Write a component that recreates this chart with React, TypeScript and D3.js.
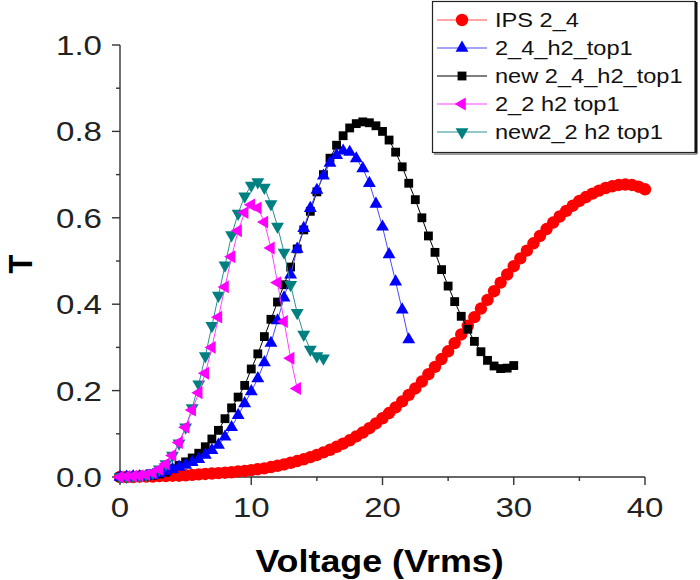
import React from "react";
import * as d3 from "d3";

// Shared voltage grid (Vrms)
const VOLTAGES = [
  0, 0.5, 1, 1.5, 2, 2.5, 3, 3.5, 4, 4.5, 5, 5.5, 6, 6.5, 7, 7.5, 8, 8.5, 9, 9.5,
  10, 10.5, 11, 11.5, 12, 12.5, 13, 13.5, 14, 14.5, 15, 15.5, 16, 16.5, 17, 17.5,
  18, 18.5, 19, 19.5, 20, 20.5, 21, 21.5, 22, 22.5, 23, 23.5, 24, 24.5, 25, 25.5,
  26, 26.5, 27, 27.5, 28, 28.5, 29, 29.5, 30, 30.5, 31, 31.5, 32, 32.5, 33, 33.5,
  34, 34.5, 35, 35.5, 36, 36.5, 37, 37.5, 38, 38.5, 39, 39.5, 40, 40.5,
];

const IPS_2_4 = [
  0, 0, 0, 0.001, 0.001, 0.001, 0.002, 0.002, 0.003, 0.003, 0.004, 0.005, 0.006,
  0.007, 0.008, 0.009, 0.01, 0.011, 0.013, 0.014, 0.016, 0.018, 0.02, 0.023, 0.026,
  0.029, 0.033, 0.037, 0.041, 0.046, 0.051, 0.057, 0.063, 0.07, 0.077, 0.085, 0.094,
  0.103, 0.113, 0.124, 0.136, 0.148, 0.161, 0.175, 0.19, 0.205, 0.221, 0.238, 0.255,
  0.273, 0.291, 0.31, 0.33, 0.35, 0.37, 0.39, 0.41, 0.43, 0.45, 0.469, 0.488, 0.506,
  0.524, 0.541, 0.558, 0.574, 0.589, 0.603, 0.616, 0.628, 0.639, 0.648, 0.656, 0.663,
  0.669, 0.673, 0.676, 0.677, 0.676, 0.672, 0.666,
];

const H2_2_4 = [
  0, 0, 0.001, 0.001, 0.002, 0.004, 0.008, 0.013, 0.018, 0.023, 0.028, 0.034, 0.041,
  0.051, 0.062, 0.074, 0.093, 0.115, 0.143, 0.17, 0.198, 0.228, 0.265, 0.31, 0.362,
  0.415, 0.468, 0.528, 0.576, 0.622, 0.664, 0.697, 0.727, 0.745, 0.755, 0.752, 0.737,
  0.714, 0.68, 0.632, 0.579, 0.515, 0.452, 0.387, 0.318,
];

const NEW_H2_2_4 = [
  0, 0, 0.001, 0.001, 0.002, 0.004, 0.007, 0.011, 0.019, 0.027, 0.035, 0.044, 0.055,
  0.07, 0.088, 0.108, 0.135, 0.16, 0.185, 0.212, 0.25, 0.285, 0.325, 0.365, 0.405,
  0.445, 0.486, 0.528, 0.572, 0.615, 0.66, 0.7, 0.738, 0.768, 0.79, 0.808, 0.818,
  0.822, 0.82, 0.813, 0.8, 0.78, 0.752, 0.718, 0.68, 0.642, 0.6, 0.558, 0.52, 0.48,
  0.442, 0.406, 0.372, 0.342, 0.314, 0.29, 0.27, 0.257, 0.251, 0.252, 0.258,
];

const H2_2_2 = [
  0, 0.001, 0.002, 0.003, 0.005, 0.01, 0.018, 0.03, 0.05, 0.08, 0.115, 0.155, 0.195,
  0.24, 0.3, 0.37, 0.44, 0.51, 0.57, 0.612, 0.63, 0.623, 0.59, 0.53, 0.45, 0.36,
  0.275, 0.205,
];

const NEW2_H2_2_2 = [
  0, 0.001, 0.002, 0.003, 0.005, 0.01, 0.018, 0.03, 0.05, 0.078, 0.115, 0.16, 0.215,
  0.28, 0.35, 0.42, 0.49, 0.56, 0.61, 0.65, 0.675, 0.683, 0.67, 0.632, 0.58, 0.52,
  0.445, 0.38, 0.33, 0.295, 0.28, 0.275,
];

const X_TICKS = [0, 10, 20, 30, 40];
const Y_TICKS = [0, 0.2, 0.4, 0.6, 0.8, 1.0];
const X_MINOR = [5, 15, 25, 35];
const Y_MINOR = [0.1, 0.3, 0.5, 0.7, 0.9];

type Series = {
  name: string;
  values: number[];
  color: string;
  lineColor: string;
  marker: "circle" | "up" | "square" | "left" | "down";
};

const SERIES: Series[] = [
  { name: "IPS 2_4", values: IPS_2_4, color: "#ff0000", lineColor: "#ff5050", marker: "circle" },
  { name: "2_4_h2_top1", values: H2_2_4, color: "#0000ff", lineColor: "#4a4aff", marker: "up" },
  { name: "new 2_4_h2_top1", values: NEW_H2_2_4, color: "#000000", lineColor: "#000000", marker: "square" },
  { name: "2_2 h2 top1", values: H2_2_2, color: "#ff00ff", lineColor: "#ff40ff", marker: "left" },
  { name: "new2_2 h2 top1", values: NEW2_H2_2_2, color: "#008080", lineColor: "#2a9090", marker: "down" },
];

const DRAW_ORDER = [0, 2, 1, 4, 3];

const W = 700;
const H = 580;
const x = d3.scaleLinear().domain([0, 40]).range([120, 645]);
const y = d3.scaleLinear().domain([0, 1]).range([477, 45]);

const triPath = d3.symbol().type(d3.symbolTriangle).size(72)() as string;
const sqPath = d3.symbol().type(d3.symbolSquare).size(78)() as string;

function Marker({ kind, cx, cy, color }: { kind: Series["marker"]; cx: number; cy: number; color: string }) {
  if (kind === "circle") return <circle cx={cx} cy={cy} r={6.2} fill={color} />;
  if (kind === "square") return <path d={sqPath} transform={`translate(${cx},${cy})`} fill={color} />;
  const rot = kind === "up" ? 0 : kind === "down" ? 180 : -90;
  return <path d={triPath} transform={`translate(${cx},${cy}) rotate(${rot})`} fill={color} />;
}

const FONT = "'Liberation Sans', Arial, sans-serif";
const SX = 1.18;

export default function App() {
  const line = d3
    .line<[number, number]>()
    .x((d) => x(d[0]))
    .y((d) => y(d[1]));

  return (
    <svg width={W} height={H} style={{ position: "absolute", left: 0, top: 0, background: "#fff" }}>
      <rect x={0} y={0} width={W} height={H} fill="#fff" />
      {/* axes */}
      <g stroke="#333" strokeWidth={1.4} fill="none">
        <line x1={x(0)} x2={x(0)} y1={y(1)} y2={y(0)} />
        <line x1={x(0)} x2={x(40)} y1={y(0)} y2={y(0)} />
        {Y_TICKS.map((t) => (
          <line key={"ym" + t} x1={x(0) - 8} x2={x(0)} y1={y(t)} y2={y(t)} />
        ))}
        {Y_MINOR.map((t) => (
          <line key={"yn" + t} x1={x(0) - 4} x2={x(0)} y1={y(t)} y2={y(t)} />
        ))}
        {X_TICKS.map((t) => (
          <line key={"xm" + t} x1={x(t)} x2={x(t)} y1={y(0)} y2={y(0) + 8} />
        ))}
        {X_MINOR.map((t) => (
          <line key={"xn" + t} x1={x(t)} x2={x(t)} y1={y(0)} y2={y(0) + 4} />
        ))}
      </g>
      <g fontFamily={FONT} fontSize={28} fill="#222">
        {Y_TICKS.map((t) => (
          <text key={"yl" + t} transform={`translate(${x(0) - 18},${y(t) + 10}) scale(${SX},1)`} textAnchor="end">
            {t.toFixed(1)}
          </text>
        ))}
        {X_TICKS.map((t) => (
          <text key={"xl" + t} transform={`translate(${x(t)},${y(0) + 40}) scale(${SX},1)`} textAnchor="middle">
            {t}
          </text>
        ))}
      </g>
      <text
        transform={`translate(${(x(0) + x(40)) / 2 - 3},${572}) scale(1.12,1)`}
        textAnchor="middle"
        fontFamily={FONT}
        fontWeight="bold"
        fontSize={32}
        fill="#000"
      >
        Voltage (Vrms)
      </text>
      <text
        transform={`translate(${32},${264}) rotate(-90) scale(1,1.1)`}
        textAnchor="middle"
        fontFamily={FONT}
        fontWeight="bold"
        fontSize={31}
        fill="#000"
      >
        T
      </text>

      {/* series */}
      {DRAW_ORDER.map((i) => {
        const s = SERIES[i];
        const pts: [number, number][] = s.values.map((v, k) => [VOLTAGES[k], v]);
        return (
          <g key={s.name}>
            <path d={line(pts) as string} fill="none" stroke={s.lineColor} strokeWidth={1} />
            {pts.map((p, k) => (
              <Marker key={k} kind={s.marker} cx={x(p[0])} cy={y(p[1])} color={s.color} />
            ))}
          </g>
        );
      })}

      {/* legend */}
      <g>
        <rect x={432.5} y={1.5} width={263} height={151} fill="#fff" stroke="#222" strokeWidth={1.2} />
        <line x1={696} x2={696} y1={2} y2={154} stroke="#111" strokeWidth={3} />
        <line x1={434} x2={697} y1={154} y2={154} stroke="#999" strokeWidth={2} />
        {SERIES.map((s, i) => {
          const cy = 20 + i * 28;
          return (
            <g key={"lg" + s.name}>
              <line x1={437} x2={487} y1={cy} y2={cy} stroke={s.lineColor} strokeWidth={1.2} />
              <Marker kind={s.marker} cx={462} cy={cy} color={s.color} />
              <text
                transform={`translate(495,${cy + 7}) scale(${SX},1)`}
                fontFamily={FONT}
                fontSize={20}
                fill="#111"
              >
                {s.name}
              </text>
            </g>
          );
        })}
      </g>
    </svg>
  );
}
